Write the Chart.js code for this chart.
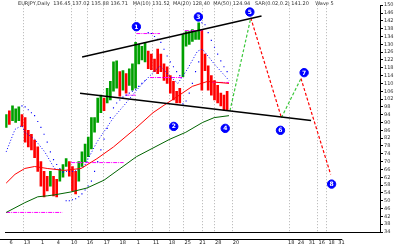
<!DOCTYPE html>
<html>
<head>
<meta charset="utf-8">
<script src="https://cdn.jsdelivr.net/npm/chart.js@4.4.1/dist/chart.umd.min.js"></script>
<style>
  html, body { margin: 0; padding: 0; background: #fff; }
</style>
</head>
<body>
<canvas id="chart" width="400" height="245"></canvas>
<script>
// daily bars (index = bar number), high / low and direction (1 up, 0 down)
const barHigh = [94, 96, 98.5, 97, 98, 94, 92.5, 86, 84, 81, 77.5, 70, 65, 62.5, 65, 62.5, 61, 66, 68.5, 71.5,
  70, 67.5, 65, 70, 75, 79, 82.5, 92.5, 92.5, 102.5, 104, 102.5, 107.5, 111, 121, 121.5, 116, 116.5, 115, 117.5,
  120, 131, 130, 129, 131, 126.5, 125, 122.5, 127.5, 125, 120, 118.5, 114, 111, 106, 107.5, 135, 136.5, 136.5, 137.5,
  136.5, 141, 137.5, 125, 119, 114, 111.5, 109, 105, 104, 106];
const barLow = [87.5, 89, 91, 90, 91, 88, 80, 77.5, 76, 72, 65, 57.5, 52, 55, 57.5, 52.5, 52, 60, 62, 67.5,
  62.5, 55, 53.5, 60, 67.5, 70, 72.5, 76.5, 85, 90, 95, 96, 100, 101.5, 106, 107.5, 103.5, 106.5, 105, 109,
  106.5, 107.5, 120, 122, 121, 117.5, 117, 116, 115, 116, 111.5, 110, 105, 101.5, 100, 100, 113.5, 129, 130, 131.5,
  132.5, 132.5, 106.5, 116.5, 106.5, 104, 101.5, 100, 98.5, 96.5, 96.5];
const barUp = [1, 0, 1, 1, 1, 0, 0, 0, 0, 0, 0, 0, 0, 0, 1, 0, 0, 1, 1, 1,
  0, 0, 0, 1, 1, 1, 1, 1, 1, 1, 1, 0, 1, 1, 1, 1, 0, 1, 0, 1,
  1, 1, 1, 1, 1, 0, 0, 0, 0, 0, 0, 0, 0, 0, 0, 0, 1, 1, 1, 1,
  1, 1, 0, 0, 0, 0, 0, 0, 0, 0, 0];

// parabolic SAR dots, one per bar (null = none)
const sarValue = [null, null, null, null, null, 98.5, 98, 96.5, 95, 93.5, 90.5, 87.5, 84, 80, 75, 71, 68.5, 66.5, 64.5, 50,
  50, 50.5, 51, 52, 53.5, 55.5, 57.5, 60, 65, 70, 76, 81.5, 87, 92.5, 97.5, 100, 101.5, 103, 104, 105,
  106, 107, 108.5, 110, 111.5, 136, 135.5, 134, 132.5, 131, 127.5, 124, 121, 118.5, 116, 114, 99.5, 101, 105, 110,
  116, 121, 141, 140, 136, 132, 128.5, 125, 121.5, 118.5, 116];

// moving averages
const blueMaX = [0, 2.8, 5, 5.9, 9, 12.2, 15.3, 18.4, 21.6, 24.7, 28.75, 34, 38, 41.25, 45.6, 48.75, 51.9, 54.4, 57.5, 60.6, 62.2, 65.9, 70.6];
const blueMaY = [75, 86.5, 88.5, 85, 81.5, 75, 66.5, 65, 65, 67.5, 80, 92.5, 100, 106.5, 114, 119, 113.5, 110, 117.5, 126.5, 127.5, 120, 111.5];
const redMaX = [0, 2.8, 5.9, 9, 13, 18.4, 23.75, 28.75, 34, 41, 46.5, 49.7, 54.4, 59, 63.75, 70.6];
const redMaY = [59, 63.5, 66.5, 67.5, 66.5, 65.5, 66.5, 71.5, 77.5, 87, 95, 98.5, 103.5, 108.5, 111, 110];
const greenMaX = [0, 5.9, 10, 13, 15.3, 20.6, 25.6, 31, 41.25, 51.9, 56.9, 62.2, 65.9, 70.6];
const greenMaY = [44, 49, 52, 52.5, 53, 54.5, 56.5, 60.5, 72.5, 81.5, 85, 90, 92.5, 93.5];

// channel lines
const upperLineX = [24.06, 80.9];
const upperLineY = [123.5, 144.5];
const lowerLineX = [23.4, 96.6];
const lowerLineY = [105, 91];

// magenta levels
const levelValue = [44, 69.5, 104, 135.5, 113, 137, 110.5];
const levelFrom = [0, 20.6, 37.8, 41.25, 45.6, 56.6, 65.3];
const levelTo = [17.8, 37.2, 41, 48.75, 56, 62.2, 70.6];

// projected swing path
const projX = [70.9, 77.5, 87.2, 93.4, 102.8];
const projY = [96, 143.5, 92.5, 112.5, 63.5];

// wave count markers
const waveX = [41.25, 53.1, 60.9, 69.4, 77.2, 86.9, 94.4, 103.1];
const waveY = [139, 88, 144, 87, 146.5, 86, 115.5, 58.5];
const waveText = ['1', '2', '3', '4', '5', '6', '7', '8'];

// axis
const tickPos = [1.56, 6.56, 11.56, 16.56, 21.56, 26.56, 31.9, 36.9, 41.9, 47.5, 52.5, 57.5, 62.2, 67.2, 72.8, 90.3, 93.4, 96.9, 100, 103.1, 106.25];
const tickText = ['6', '13', '1', '4', '10', '16', '17', '18', '1', '11', '18', '25', '21', '28', '20', '18', '24', '31', '16', '18', '31'];
const gridAt = [5.3, 20.6, 25.6, 30.6, 40.9, 46.25, 51.6, 55.9, 61.9, 65.9, 71.6, 89.7, 98.4, 101.25];
const headerText = 'EURJPY,Daily  136.45 137.02 135.88 136.71   MA(10) 131.52  MA(20) 128.40  MA(50) 124.94   SAR(0.02,0.2) 141.20    Wave 5';

const UP = 'rgb(0,160,0)';
const DOWN = 'rgb(255,0,0)';
const BLUE = 'rgb(0,0,255)';
const MAGENTA = 'rgb(255,0,255)';

const pts = (xs, ys) => xs.map((x, i) => ({ x: x, y: ys[i] }));

const levelSets = levelValue.map((v, i) => ({
  type: 'line',
  data: [{ x: levelFrom[i], y: v }, { x: levelTo[i], y: v }],
  borderColor: MAGENTA,
  borderWidth: 1,
  borderDash: [4, 1, 1, 1],
  pointRadius: 0,
  order: 3
}));

const gridPlugin = {
  id: 'vgrid',
  beforeDatasetsDraw(chart) {
    const { ctx, chartArea, scales } = chart;
    ctx.save();
    ctx.strokeStyle = '#b0b0b0';
    ctx.lineWidth = 1;
    ctx.setLineDash([1, 2]);
    gridAt.forEach(v => {
      const px = Math.round(scales.x.getPixelForValue(v)) + 0.5;
      ctx.beginPath();
      ctx.moveTo(px, chartArea.top);
      ctx.lineTo(px, chartArea.bottom);
      ctx.stroke();
    });
    ctx.restore();
  }
};

const textPlugin = {
  id: 'texts',
  afterDraw(chart) {
    const { ctx, scales, chartArea } = chart;
    ctx.save();
    // header
    ctx.font = '5px "DejaVu Sans"';
    ctx.fillStyle = '#333';
    ctx.textBaseline = 'top';
    ctx.fillText(headerText, 18, 1);
    // wave numbers
    ctx.font = 'bold 6px "DejaVu Sans"';
    ctx.fillStyle = '#fff';
    ctx.textAlign = 'center';
    ctx.textBaseline = 'middle';
    waveText.forEach((t, i) => {
      ctx.fillText(t, scales.x.getPixelForValue(waveX[i]), scales.y.getPixelForValue(waveY[i]) + 0.5);
    });
    // lower rule under the date row
    ctx.strokeStyle = '#000';
    ctx.lineWidth = 1;
    ctx.beginPath();
    ctx.moveTo(0, chartArea.bottom + 7.5);
    ctx.lineTo(scales.x.getPixelForValue(106.5), chartArea.bottom + 7.5);
    ctx.stroke();
    ctx.restore();
  }
};

new Chart(document.getElementById('chart'), {
  type: 'bar',
  data: {
    datasets: [
      {
        type: 'bar',
        data: barHigh.map((h, i) => ({ x: i, y: [barLow[i], h] })),
        backgroundColor: barUp.map(u => u ? UP : DOWN),
        barThickness: 2,
        order: 5
      },
      {
        type: 'line',
        data: pts(greenMaX, greenMaY),
        borderColor: 'rgb(0,100,0)',
        borderWidth: 1,
        pointRadius: 0,
        order: 2
      },
      {
        type: 'line',
        data: pts(redMaX, redMaY),
        borderColor: DOWN,
        borderWidth: 1,
        pointRadius: 0,
        order: 2
      },
      {
        type: 'line',
        data: pts(blueMaX, blueMaY),
        borderColor: BLUE,
        borderWidth: 1,
        borderDash: [1, 2],
        pointRadius: 0,
        order: 2
      },
      {
        type: 'scatter',
        data: sarValue.map((v, i) => ({ x: i, y: v })),
        backgroundColor: BLUE,
        borderWidth: 0,
        pointStyle: 'rect',
        pointRadius: 0.8,
        order: 2
      },
      ...levelSets,
      {
        type: 'line',
        data: pts(upperLineX, upperLineY),
        borderColor: '#000',
        borderWidth: 1.5,
        pointRadius: 0,
        order: 1
      },
      {
        type: 'line',
        data: pts(lowerLineX, lowerLineY),
        borderColor: '#000',
        borderWidth: 1.5,
        pointRadius: 0,
        order: 1
      },
      {
        type: 'line',
        data: pts(projX, projY),
        borderWidth: 1.2,
        borderDash: [3, 2],
        pointRadius: 0,
        segment: {
          borderColor: c => c.p1.parsed.y > c.p0.parsed.y ? 'rgb(60,200,60)' : DOWN
        },
        order: 1
      },
      {
        type: 'scatter',
        data: pts(waveX, waveY),
        backgroundColor: BLUE,
        borderColor: BLUE,
        borderWidth: 1,
        pointRadius: 4.2,
        order: 0
      }
    ]
  },
  options: {
    responsive: false,
    devicePixelRatio: 1,
    animation: false,
    layout: { padding: 0 },
    plugins: { legend: { display: false }, tooltip: { enabled: false } },
    scales: {
      x: {
        type: 'linear',
        min: -0.3125,
        max: 118.44,
        offset: false,
        afterBuildTicks: s => { s.ticks = tickPos.map(v => ({ value: v })); },
        afterFit: s => { s.height = 13; },
        ticks: {
          autoSkip: false,
          maxRotation: 0,
          padding: 0,
          color: '#222',
          font: { size: 5, family: 'DejaVu Sans' },
          callback: (v, i) => tickText[i]
        },
        grid: { display: false },
        border: { display: true, color: '#000', width: 1 }
      },
      y: {
        position: 'right',
        min: 34,
        max: 150,
        afterFit: s => { s.width = 20; s.paddingTop = 0; s.paddingBottom = 0; },
        ticks: {
          stepSize: 4,
          autoSkip: false,
          padding: 1,
          color: '#333',
          font: { size: 5, family: 'DejaVu Sans' }
        },
        grid: { drawOnChartArea: false, drawTicks: true, tickLength: 3, color: '#000' },
        border: { display: true, color: '#000', width: 1 }
      }
    }
  },
  plugins: [gridPlugin, textPlugin]
});
</script>
</body>
</html>
